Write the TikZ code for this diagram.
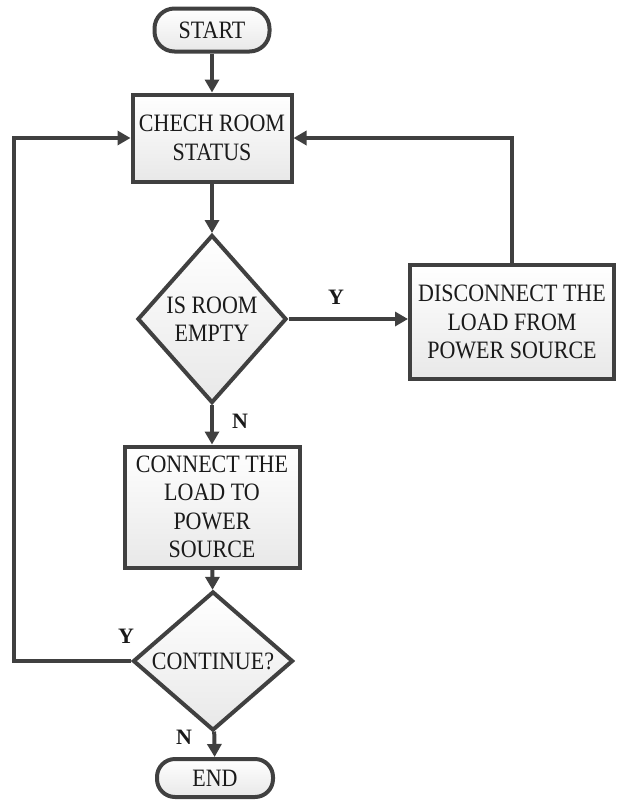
\documentclass[tikz,border=0pt]{standalone}
\usepackage{fontspec}
\setmainfont{Liberation Serif}
\newfontfamily\narrowserif[FakeStretch=0.88]{Liberation Serif}
\usetikzlibrary{shapes.geometric,arrows.meta}
\definecolor{ln}{HTML}{404040}
\definecolor{tx}{HTML}{1A1A1A}
\tikzset{
  base/.style={draw=ln, line width=4pt, top color=white, bottom color=black!9, text=tx,
    font=\narrowserif\fontsize{25}{28.5}\selectfont, align=center, inner sep=0pt},
  term/.style={base, rectangle, rounded corners=20pt},
  proc/.style={base, rectangle},
  dec/.style={base, diamond},
  conn/.style={draw=ln, line width=4pt, -{Triangle[length=13pt,width=14pt]}},
  lab/.style={text=tx, font=\fontsize{22}{22}\selectfont\bfseries}
}
\begin{document}
\begin{tikzpicture}[x=1pt,y=-1pt]
\useasboundingbox (0,0) rectangle (617,811);
\node[term, minimum width=115pt, minimum height=43pt] (start) at (212,30) {START};
\node[proc, minimum width=159pt, minimum height=87pt] (check) at (212,138) {CHECH ROOM\\STATUS};
\node[dec, minimum width=149pt, minimum height=168pt] (empty) at (212,319) {IS ROOM\\EMPTY};
\node[proc, minimum width=204pt, minimum height=114pt] (disc) at (512,322) {DISCONNECT THE\\LOAD FROM\\POWER SOURCE};
\node[proc, minimum width=175pt, minimum height=121pt] (conn) at (212,507) {CONNECT THE\\LOAD TO\\POWER\\SOURCE};
\node[dec, minimum width=160pt, minimum height=128pt] (cont) at (213,661) {CONTINUE?};
\node[term, minimum width=116pt, minimum height=38pt, rounded corners=18pt] (end) at (215,778) {END};

\coordinate (rtop) at (disc.north |- check.east);
\coordinate (lbot) at (14,0 |- cont.west);
\coordinate (ltop) at (14,0 |- check.west);

\draw[conn] (start) -- (check);
\draw[conn] (check) -- (empty);
\draw[conn] (empty.east) -- (disc.west |- empty.east);
\draw[conn] (disc.north) -- (rtop) -- (check.east);
\draw[conn] (empty) -- (conn);
\draw[conn] (conn) -- (cont);
\draw[conn] (cont) -- (end);
\draw[conn] (cont.west) -- (lbot) -- (ltop) -- (check.west);

\node[lab] (ly1) at (336,297) {Y};
\node[lab] (ln1) at (240,421) {N};
\node[lab] (ly2) at (126,636) {Y};
\node[lab] (ln2) at (184,737) {N};
\end{tikzpicture}
\end{document}
